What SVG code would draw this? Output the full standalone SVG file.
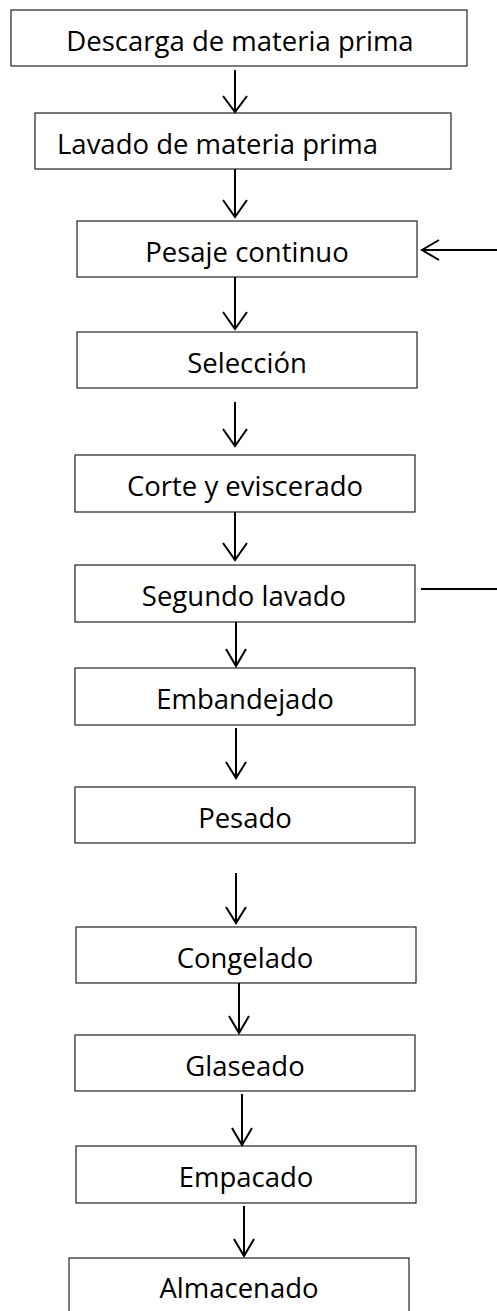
<svg xmlns="http://www.w3.org/2000/svg" width="497" height="1311" viewBox="0 0 497 1311">
<style>
.box{fill:#fff;stroke:#222;stroke-width:1.2}
.lbl{font-family:"Open Sans","Liberation Sans",sans-serif;font-size:27.5px;fill:#000;text-anchor:middle}
.con{stroke:#000;stroke-width:2;fill:none}
.head{stroke:#000;stroke-width:2;fill:none;stroke-linejoin:miter}
</style>
<rect width="497" height="1311" fill="#fff"/>
<g id="n1"><rect class="box" x="11" y="10" width="456" height="56"/><text class="lbl" x="240" y="51">Descarga de materia prima</text></g>
<g id="n2"><rect class="box" x="35" y="113" width="416" height="56"/><text class="lbl" x="57" y="154" style="text-anchor:start">Lavado de materia prima</text></g>
<g id="n3"><rect class="box" x="77" y="221" width="340" height="56"/><text class="lbl" x="247" y="262">Pesaje continuo</text></g>
<g id="n4"><rect class="box" x="77" y="332" width="340" height="56"/><text class="lbl" x="247" y="373">Selección</text></g>
<g id="n5"><rect class="box" x="75" y="455" width="340" height="57"/><text class="lbl" x="245" y="496">Corte y eviscerado</text></g>
<g id="n6"><rect class="box" x="75" y="565" width="340" height="57"/><text class="lbl" x="244" y="606">Segundo lavado</text></g>
<g id="n7"><rect class="box" x="75" y="668" width="340" height="57"/><text class="lbl" x="245" y="709">Embandejado</text></g>
<g id="n8"><rect class="box" x="75" y="787" width="340" height="56"/><text class="lbl" x="245" y="828">Pesado</text></g>
<g id="n9"><rect class="box" x="76" y="927" width="340" height="56"/><text class="lbl" x="245" y="968">Congelado</text></g>
<g id="n10"><rect class="box" x="75" y="1035" width="340" height="56"/><text class="lbl" x="245" y="1076">Glaseado</text></g>
<g id="n11"><rect class="box" x="76" y="1146" width="340" height="57"/><text class="lbl" x="246" y="1187">Empacado</text></g>
<g id="n12"><rect class="box" x="69" y="1258" width="340" height="60"/><text class="lbl" x="239" y="1298">Almacenado</text></g>
<g id="connectors">
<line class="con" x1="235" y1="70" x2="235" y2="112"/><polyline class="head" points="223,96 235,112 247,96"/>
<line class="con" x1="235" y1="169" x2="235" y2="217"/><polyline class="head" points="223,200 235,217 247,200"/>
<line class="con" x1="235" y1="277" x2="235" y2="329"/><polyline class="head" points="223,312 235,329 247,312"/>
<line class="con" x1="235" y1="402" x2="235" y2="446"/><polyline class="head" points="223,429 235,446 247,429"/>
<line class="con" x1="235" y1="512" x2="235" y2="560"/><polyline class="head" points="223,543 235,560 247,543"/>
<line class="con" x1="236" y1="622" x2="236" y2="666"/><polyline class="head" points="226,649 236,666 246,649"/>
<line class="con" x1="236" y1="728" x2="236" y2="778"/><polyline class="head" points="226,762 236,778 246,762"/>
<line class="con" x1="236" y1="873" x2="236" y2="923"/><polyline class="head" points="226,907 236,923 246,907"/>
<line class="con" x1="239" y1="983" x2="239" y2="1033"/><polyline class="head" points="229,1016 239,1033 249,1016"/>
<line class="con" x1="242" y1="1094" x2="242" y2="1145"/><polyline class="head" points="232,1128 242,1145 252,1128"/>
<line class="con" x1="244" y1="1206" x2="244" y2="1256"/><polyline class="head" points="234,1239 244,1256 254,1239"/>
<line class="con" x1="497" y1="250" x2="422" y2="250"/><polyline class="head" points="439,240 422,250 439,260"/>
<line class="con" x1="421" y1="589" x2="497" y2="589"/>
</g>
</svg>
